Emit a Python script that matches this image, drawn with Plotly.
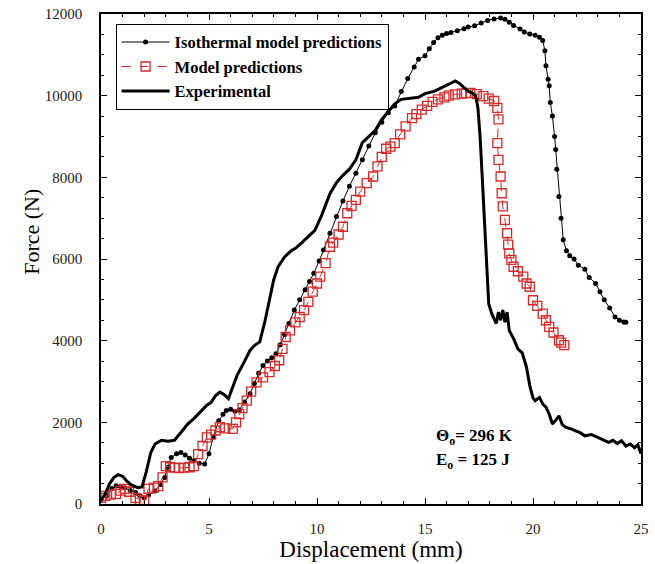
import plotly.graph_objects as go

# ---- Experimental (thick black line) ----
exp_x = [0.0, 0.2, 0.4, 0.6, 0.8, 1.0, 1.2, 1.4, 1.7, 1.9, 2.1, 2.3, 2.5, 2.8, 3.1, 3.4, 3.7, 4.0, 4.3, 4.6,
         4.9, 5.1, 5.3, 5.5, 5.7, 5.9, 6.1, 6.3, 6.6, 6.9, 7.1, 7.35, 7.6, 7.8, 8.0, 8.2, 8.5, 8.8, 9.0, 9.3,
         9.6, 9.9, 10.2, 10.6, 10.9, 11.2, 11.5, 11.8, 12.1, 12.4, 12.7, 13.0, 13.3, 13.6, 13.9, 14.2, 14.5,
         14.7, 15.0, 15.2, 15.45, 15.7, 15.9, 16.1, 16.4, 16.6, 16.8, 17.0, 17.2, 17.35, 17.45, 17.55, 17.65,
         17.75, 17.85, 17.95, 18.1, 18.3, 18.4, 18.5, 18.6, 18.7, 18.8, 18.9, 19.1, 19.3, 19.5, 19.7, 19.85,
         20.0, 20.1, 20.3, 20.45, 20.6, 20.75, 20.9, 21.05, 21.2, 21.35, 21.5, 21.7, 21.95, 22.2, 22.4, 22.7,
         23.0, 23.2, 23.5, 23.7, 23.9, 24.1, 24.3, 24.5, 24.7, 24.85, 25.0]
exp_y = [100, 250, 500, 650, 720, 680, 560, 470, 400, 420, 800, 1250, 1470, 1560, 1540, 1560, 1750, 1950, 2090, 2250,
         2420, 2490, 2650, 2740, 2680, 2580, 2850, 3150, 3450, 3760, 3880, 3970, 4500, 5000, 5500, 5810, 6050, 6200, 6260, 6400,
         6550, 6700, 7050, 7600, 7870, 8050, 8200, 8430, 8850, 9010, 9150, 9420, 9600, 9800, 9910, 9930, 9950,
         9960, 10050, 10080, 10110, 10180, 10240, 10280, 10360, 10300, 10200, 10110, 10060, 9990, 9700, 9000, 8000,
         7000, 6000, 4900, 4650, 4420, 4700, 4500, 4750, 4450, 4700, 4250, 4050, 3800, 3700, 3350, 2900,
         2600, 2530, 2610, 2450, 2370, 2200, 1960, 2050, 2160, 1950, 1880, 1850, 1790, 1740, 1670, 1700,
         1630, 1580, 1510, 1560, 1480, 1550, 1420, 1470, 1380, 1450, 1230]

# ---- Isothermal model predictions (black dots + thin line) ----
iso_x = [0.0, 0.25, 0.5, 0.7, 0.9, 1.1, 1.35, 1.6, 1.8, 2.0, 2.2, 2.5, 2.75, 2.95, 3.1, 3.25, 3.5, 3.7, 3.9, 4.1,
         4.3, 4.55, 4.8, 5.0, 5.2, 5.45, 5.65, 5.8, 6.0, 6.2, 6.4, 6.65, 6.9, 7.1, 7.3, 7.5, 7.7, 7.9, 8.1, 8.3,
         8.5, 8.7, 8.95, 9.2, 9.45, 9.65, 9.85, 10.1, 10.3, 10.6, 10.9, 11.2, 11.5, 11.8, 12.1, 12.4, 12.7, 13.0,
         13.3, 13.6, 13.9, 14.2, 14.5, 14.7, 15.0, 15.2, 15.4, 15.6, 15.8, 16.0, 16.2, 16.5, 16.8, 17.0, 17.3,
         17.6, 17.9, 18.2, 18.5, 18.7, 18.9, 19.1, 19.4, 19.6, 19.85, 20.1, 20.3, 20.45, 20.55, 20.6, 20.7,
         20.75, 20.8, 20.9, 21.0, 21.05, 21.1, 21.2, 21.3, 21.4, 21.55, 21.7, 21.9, 22.1, 22.4, 22.6, 22.9,
         23.1, 23.3, 23.55, 23.8, 24.0, 24.2, 24.3]
iso_y = [100, 200, 380, 450, 430, 400, 330, 280, 200, 150, 220, 320, 480, 650, 900, 1140, 1230, 1260, 1200, 1120,
         1060, 1000, 980, 1230, 1650, 2040, 2200, 2290, 2320, 2270, 2300, 2500, 2700, 2950, 3200, 3390, 3500, 3580, 3680, 3900,
         4150, 4420, 4750, 5000, 5250, 5450, 5650, 5950, 6220, 6630, 7040, 7420, 7780, 8100, 8430, 8770, 9090, 9350,
         9580, 9750, 10100, 10420, 10700, 10890, 10980, 11150, 11300, 11420, 11480, 11520, 11550, 11590, 11640, 11680, 11710,
         11780, 11840, 11880, 11900, 11870, 11800, 11720, 11630, 11560, 11510, 11480, 11430, 11350, 11100, 10730, 10400,
         10240, 9830, 9500, 9000, 8680, 8200, 7530, 7000, 6470, 6200, 6080, 6000, 5850, 5750, 5550, 5400,
         5200, 5000, 4800, 4580, 4500, 4460, 4450]

# ---- Model predictions (red open squares + dashed line) ----
mod_x = [0.0, 0.2, 0.45, 0.7, 0.9, 1.1, 1.3, 1.6, 1.8, 2.0, 2.2, 2.45, 2.65, 2.85, 3.0, 3.2, 3.4, 3.6, 3.85, 4.1,
         4.3, 4.5, 4.7, 4.9, 5.1, 5.3, 5.5, 5.75, 6.1, 6.25, 6.4, 6.55, 6.75, 6.95, 7.2, 7.5, 7.8, 8.05, 8.25, 8.4,
         8.55, 8.75, 9.0, 9.2, 9.4, 9.6, 9.8, 10.0, 10.15, 10.4, 10.6, 10.75, 11.0, 11.2, 11.4, 11.6, 11.8, 12.0,
         12.3, 12.6, 12.8, 13.0, 13.2, 13.4, 13.6, 13.85, 14.1, 14.4, 14.6, 14.85, 15.1, 15.35, 15.6, 15.9, 16.1,
         16.4, 16.7, 16.9, 17.1, 17.4, 17.7, 17.95, 18.2, 18.35, 18.4, 18.35, 18.4, 18.5, 18.55, 18.6, 18.7,
         18.8, 18.85, 18.9, 19.0, 19.1, 19.3, 19.55, 19.7, 19.85, 20.0, 20.2, 20.45, 20.6, 20.75, 20.95, 21.2,
         21.3, 21.45]
mod_y = [150, 200, 230, 250, 330, 370, 300, 150, 100, 80, 370, 400, 440, 650, 930, 900, 890, 880, 890, 900,
         930, 1220, 1420, 1630, 1700, 1800, 1880, 1850, 1840, 2000, 2200, 2350, 2530, 2750, 2980, 3100, 3230, 3380, 3520, 3800,
         4090, 4250, 4450, 4580, 4750, 4950, 5200, 5400, 5570, 5900, 6300, 6400, 6600, 6790, 7120, 7300, 7450, 7650,
         7860, 8020, 8270, 8500, 8700, 8750, 8840, 9050, 9250, 9450, 9550, 9660, 9750, 9850, 9910, 9960, 10000,
         10030, 10050, 10060, 10070, 10040, 9990, 9930, 9870, 9700, 9420, 8840, 8430, 8020, 7610, 7290, 6960,
         6630, 6350, 6140, 5980, 5810, 5700, 5570, 5400, 5320, 4990, 4850, 4660, 4500, 4340, 4200, 4010,
         3950, 3890]

SERIF = "Liberation Serif, Times New Roman, serif"
RED = "#d42a2a"

fig = go.Figure()
fig.add_trace(go.Scatter(
    x=iso_x, y=iso_y, mode="lines+markers", name="Isothermal model predictions",
    line=dict(color="black", width=1),
    marker=dict(symbol="circle", size=5, color="black"),
))
fig.add_trace(go.Scatter(
    x=mod_x, y=mod_y, mode="lines+markers", name="Model predictions",
    line=dict(color=RED, width=1, dash="dash"),
    marker=dict(symbol="square-open", size=9, color=RED, line=dict(width=1.3, color=RED)),
))
fig.add_trace(go.Scatter(
    x=exp_x, y=exp_y, mode="lines", name="Experimental",
    line=dict(color="black", width=3),
))

fig.add_annotation(
    x=15.4, y=1640, xref="x", yref="y", xanchor="left", yanchor="middle", align="left",
    text="<b>\u0398<sub>o</sub>= 296 K</b>",
    showarrow=False, font=dict(family=SERIF, size=17, color="black"),
)
fig.add_annotation(
    x=15.4, y=1060, xref="x", yref="y", xanchor="left", yanchor="middle", align="left",
    text="<b>E<sub>o</sub> = 125 J</b>",
    showarrow=False, font=dict(family=SERIF, size=17, color="black"),
)
# y-axis title (placed as in the reference, slightly above centre)
fig.add_annotation(
    x=-0.13, y=0.555, xref="paper", yref="paper", xanchor="center", yanchor="middle",
    text="Force (N)", textangle=-90, showarrow=False,
    font=dict(family=SERIF, size=22, color="black"),
)

axis_common = dict(
    showline=True, linecolor="black", linewidth=1.5, mirror="allticks",
    ticks="inside", tickcolor="black", ticklen=6, tickwidth=1,
    showgrid=False, zeroline=False, tickformat="d",
    tickfont=dict(family=SERIF, size=15, color="#222"),
)

fig.update_layout(
    width=655, height=564,
    margin=dict(l=101, r=6, t=14, b=60),
    paper_bgcolor="white", plot_bgcolor="white",
    xaxis=dict(range=[0, 25], dtick=5, tick0=0,
               minor=dict(dtick=1, ticks="inside", ticklen=3, tickcolor="black"),
               ticklabelstandoff=10,
               title=dict(text="Displacement (mm)", font=dict(family=SERIF, size=23, color="black"), standoff=4),
               **axis_common),
    yaxis=dict(range=[0, 12000], dtick=2000, tick0=0,
               minor=dict(dtick=500, ticks="inside", ticklen=3, tickcolor="black"),
               ticklabelstandoff=14,
               **axis_common),
    legend=dict(
        x=0.027, y=0.98, xanchor="left", yanchor="top",
        bgcolor="white", bordercolor="black", borderwidth=1,
        font=dict(family=SERIF, size=16.5, color="black", weight="bold"),
        tracegroupgap=0, itemwidth=48,
    ),
    showlegend=True,
)

fig.write_html("out.html")
